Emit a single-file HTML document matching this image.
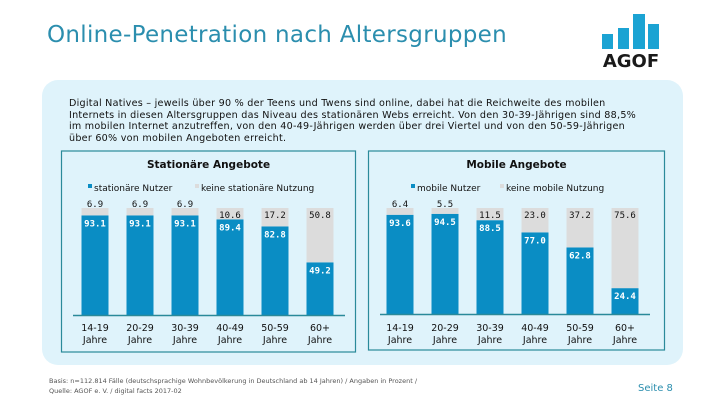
<!DOCTYPE html>
<html><head><meta charset="utf-8"><style>
body{margin:0;width:720px;height:405px;background:#fff;position:relative;overflow:hidden;font-family:"DejaVu Sans","Liberation Sans",sans-serif}
.abs{position:absolute}
</style></head><body>
<div class="abs" style="left:47px;top:22px;font-size:23px;letter-spacing:0.3px;color:#2b8eae;white-space:nowrap">Online-Penetration nach Altersgruppen</div>
<svg class="abs" style="left:598px;top:10px" width="70" height="62">
<rect x="4" y="24" width="11" height="15" fill="#1ba3d3"/><rect x="20" y="18" width="11" height="21" fill="#1ba3d3"/><rect x="35" y="4" width="12" height="35" fill="#1ba3d3"/><rect x="50" y="14" width="11" height="25" fill="#1ba3d3"/>
<text x="33" y="57" text-anchor="middle" font-family="DejaVu Sans" font-weight="bold" font-size="18" fill="#1a1a1a">AGOF</text></svg>
<div class="abs" style="left:42px;top:80px;width:641px;height:285px;background:#dff3fb;border-radius:16px"></div>
<div class="abs" style="left:69px;top:98px;width:620px;font-size:9.6px;letter-spacing:0.25px;line-height:11.6px;color:#111;white-space:nowrap">Digital Natives – jeweils über 90 % der Teens und Twens sind online, dabei hat die Reichweite des mobilen<br>Internets in diesen Altersgruppen das Niveau des stationären Webs erreicht. Von den 30-39-Jährigen sind 88,5%<br>im mobilen Internet anzutreffen, von den 40-49-Jährigen werden über drei Viertel und von den 50-59-Jährigen<br>über 60% von mobilen Angeboten erreicht.</div>
<svg id="chart" class="abs" style="left:0;top:0" width="720" height="405"></svg>
<div class="abs" style="left:49px;top:376px;font-size:6.5px;line-height:10px;color:#555">Basis: n=112.814 Fälle (deutschsprachige Wohnbevölkerung in Deutschland ab 14 Jahren) / Angaben in Prozent /<br>Quelle: AGOF e. V. / digital facts 2017-02</div>
<div class="abs" style="left:638px;top:383px;font-size:10px;color:#2b8eae">Seite 8</div>
<script>
const categories=["14-19","20-29","30-39","40-49","50-59","60+"];
const stationaryUsers=[93.1,93.1,93.1,89.4,82.8,49.2];
const stationaryNon=[6.9,6.9,6.9,10.6,17.2,50.8];
const mobileUsers=[93.6,94.5,88.5,77.0,62.8,24.4];
const mobileNon=[6.4,5.5,11.5,23.0,37.2,75.6];
const NS="http://www.w3.org/2000/svg";
const svg=document.getElementById('chart');
function mk(t,a,p){const e=document.createElementNS(NS,t);for(const k in a)e.setAttribute(k,a[k]);(p||svg).appendChild(e);return e;}
function fmt(v){return v.toFixed(1);}
function panel(o){
  const g=mk('g',{});
  
  
  const box=mk('rect',{x:o.bx,y:151,width:o.bw,height:o.bh,fill:'none',stroke:'#2a8a9a','stroke-width':1.2},g);
  
  
  const t=mk('text',{x:o.bx+o.bw/2,y:168,'text-anchor':'middle','font-size':10.5,'font-weight':'bold',fill:'#111'},g);t.textContent=o.title;
  
  
  const lg=mk('g',{},g);
  
  
  mk('rect',{x:o.lx,y:184,width:4,height:4,fill:'#0a8dc4'},lg);
  const l1=mk('text',{x:o.lx+6,y:191,'font-size':9,fill:'#111'},lg);l1.textContent=o.l1;
  mk('rect',{x:o.lx2,y:184,width:4,height:4,fill:'#dcdcdc'},lg);
  const l2=mk('text',{x:o.lx2+6,y:191,'font-size':9,fill:'#111'},lg);l2.textContent=o.l2;
  const base=o.base,top=208,h=base-top;
  const y=v=>base-v/100*h;
  categories.forEach((c,i)=>{
    const cx=o.x0+i*45,bw=27,x=cx-bw/2;
    const u=o.users[i],n=o.non[i];
    const r1=mk('rect',{x:x,y:y(u),width:bw,height:base-y(u),fill:'#0a8dc4'},g);
    
    
    const r2=mk('rect',{x:x,y:y(u+n),width:bw,height:y(u)-y(u+n),fill:'#dcdcdc'},g);
    
    
    const tn=mk('text',{x:cx,y:y(u+n)+(n<8?-1:10),'text-anchor':'middle','font-size':9,fill:'#111','font-family':'DejaVu Sans Mono'},g);tn.textContent=fmt(n);
    const tu=mk('text',{x:cx,y:y(u)+11,'text-anchor':'middle','font-size':9,'font-weight':'bold',fill:'#fff','font-family':'DejaVu Sans Mono'},g);tu.textContent=fmt(u);
    const a=mk('text',{x:cx,y:331,'text-anchor':'middle','font-size':9.5,fill:'#111'},g);a.textContent=c;
    const b=mk('text',{x:cx,y:343,'text-anchor':'middle','font-size':9.5,fill:'#111'},g);b.textContent='Jahre';
  });
  const ax=mk('line',{x1:o.ax1,x2:o.ax2,y1:base+0.5,y2:base+0.5,stroke:'#2a8a9a','stroke-width':1.5},g);
  
  
}
panel({name:'stationary-chart',bx:61.5,bw:294,bh:201,title:'Stationäre Angebote',lx:88,l1:'stationäre Nutzer',lx2:195,l2:'keine stationäre Nutzung',x0:95,base:315,users:stationaryUsers,non:stationaryNon,ax1:73,ax2:345});
panel({name:'mobile-chart',bx:368.5,bw:296,bh:199,title:'Mobile Angebote',lx:411,l1:'mobile Nutzer',lx2:500,l2:'keine mobile Nutzung',x0:400,base:314,users:mobileUsers,non:mobileNon,ax1:380,ax2:650});
</script>
</body></html>
